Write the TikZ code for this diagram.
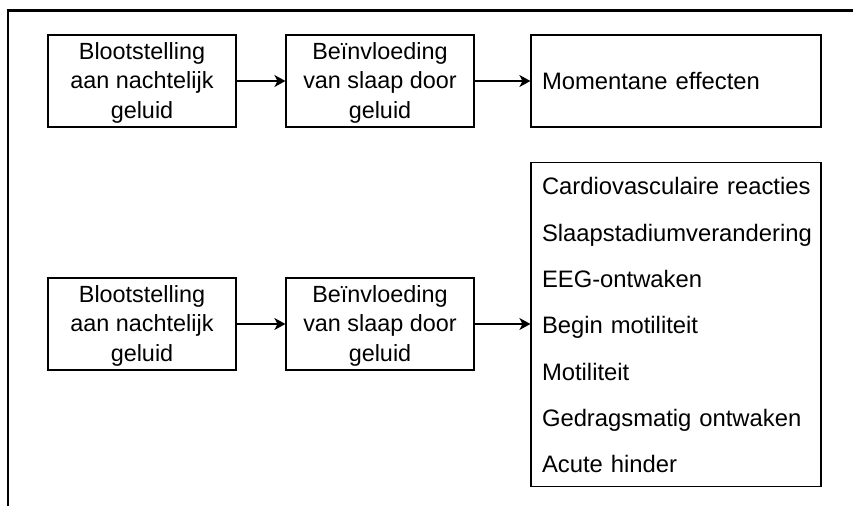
\documentclass[tikz,border=0pt]{standalone}
\usepackage{fontspec}
\setmainfont{Liberation Sans}
\usetikzlibrary{arrows.meta}
\newcommand{\toproom}{\rule{0pt}{20pt}}
\begin{document}
\begin{tikzpicture}[x=1pt,y=-1pt,
  stagebox/.style={draw, line width=1.2pt, minimum width=188pt, minimum height=92pt,
    inner sep=0pt, align=center, font=\fontsize{23.4}{29.5}\selectfont},
  effectbox/.style={draw, line width=1.2pt, minimum width=290pt, inner xsep=11pt,
    inner ysep=0pt, text width=268pt, align=left, font=\fontsize{23.8}{28}\selectfont},
  link/.style={line width=1.2pt, -{Stealth[length=11pt,width=12pt,inset=3pt]}},
  frame/.style={line width=2.4pt}
]
\useasboundingbox (0,0) rectangle (853,506);
% open frame: left and top edges only
\draw[frame] (7.8,506) -- (7.8,10.3) -- (853,10.3);

% upper chain
\node[stagebox] (a1) at (142,81) {\toproom Blootstelling\\aan nachtelijk\\geluid};
\node[stagebox] (b1) at (380,81) {\toproom Beïnvloeding\\van slaap door\\geluid};
\node[effectbox, minimum height=92pt] (c1) at (676,81) {Momentane effecten};

% lower chain
\node[stagebox] (a2) at (142,324) {\toproom Blootstelling\\aan nachtelijk\\geluid};
\node[stagebox] (b2) at (380,324) {\toproom Beïnvloeding\\van slaap door\\geluid};
\node[effectbox, minimum height=323pt, font=\fontsize{23.8}{46.3}\selectfont] (c2) at (676,324.5)
  {\strut\mbox{Cardiovasculaire reacties}\\Slaapstadiumverandering\\EEG-ontwaken\\Begin motiliteit\\Motiliteit\\\mbox{Gedragsmatig ontwaken}\\Acute hinder\strut};

\draw[link] (a1) -- (b1);
\draw[link] (b1) -- (c1);
\draw[link] (a2.east) -- (b2.west);
\draw[link] (b2.east) -- (b2.east -| c2.west);
\end{tikzpicture}
\end{document}
